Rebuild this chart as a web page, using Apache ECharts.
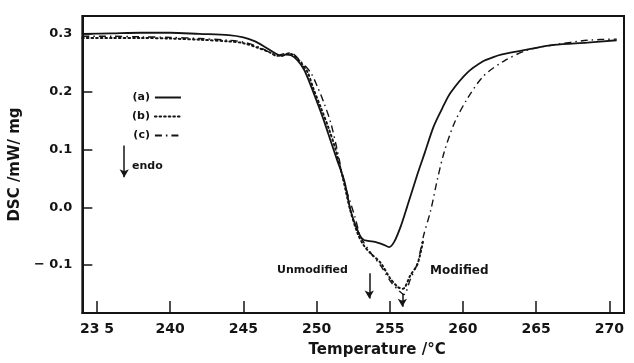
<!DOCTYPE html>
<html>
<head>
<meta charset="utf-8">
<script src="https://cdn.jsdelivr.net/npm/echarts@6/dist/echarts.min.js"></script>
<style>
  html, body { margin: 0; padding: 0; background: #fff; }
  #chart { width: 634px; height: 363px; }
</style>
</head>
<body>
<div id="chart"></div>
<script>
// tick positions and labels
var xTicks = [235, 240, 245, 250, 255, 260, 265, 270];
var xTickLabels = ['23 5', '240', '245', '250', '255', '260', '265', '270'];
var yTicks = [-0.1, 0.0, 0.1, 0.2, 0.3];

// curve (a) - solid
var tempA = [234, 236, 238, 240, 242, 244, 245, 245.8, 246.5, 247.2, 247.6, 247.9, 248.25, 248.7, 249.15, 249.6, 250.05, 250.5, 251.0, 251.4, 251.9, 252.35, 252.9, 253.2, 253.5, 254.15, 254.6, 254.95, 255.3, 255.75, 256.2, 256.9, 257.4, 258.0, 258.6, 259.15, 260.3, 261.4, 262.0, 262.6, 264.6, 266.2, 268.5, 270.5];
var dscA  = [0.300, 0.301, 0.302, 0.302, 0.300, 0.298, 0.294, 0.287, 0.277, 0.266, 0.262, 0.264, 0.263, 0.254, 0.238, 0.211, 0.181, 0.150, 0.112, 0.082, 0.045, -0.008, -0.046, -0.056, -0.058, -0.061, -0.065, -0.069, -0.060, -0.033, 0.002, 0.058, 0.095, 0.140, 0.172, 0.198, 0.233, 0.253, 0.259, 0.264, 0.274, 0.281, 0.285, 0.289];

// curve (b) - dotted
var tempB = [234, 236, 238, 240, 242, 244, 245, 246, 246.8, 247.3, 247.7, 248.1, 248.5, 249.0, 249.4, 249.8, 250.3, 250.85, 251.3, 251.8, 252.3, 252.8, 253.25, 253.7, 254.4, 255.0, 255.55, 255.9, 256.4, 256.9, 257.3];
var dscB  = [0.293, 0.293, 0.293, 0.292, 0.290, 0.287, 0.284, 0.276, 0.268, 0.262, 0.263, 0.266, 0.262, 0.248, 0.233, 0.204, 0.172, 0.135, 0.100, 0.050, -0.005, -0.045, -0.067, -0.080, -0.097, -0.122, -0.138, -0.141, -0.118, -0.098, -0.055];

// curve (c) - dash / dash-dot
var tempC = [234, 236, 238, 240, 242, 244, 245, 246, 246.8, 247.3, 247.8, 248.25, 248.9, 249.6, 250.05, 250.5, 250.97, 251.4, 251.9, 252.6, 253.0, 253.7, 254.4, 255.1, 255.65, 255.97, 256.4, 256.9, 257.3, 257.8, 258.25, 258.7, 259.4, 260.3, 261.4, 262.8, 264.4, 266.2, 268.5, 270.5];
var dscC  = [0.296, 0.296, 0.295, 0.294, 0.292, 0.289, 0.286, 0.278, 0.268, 0.263, 0.266, 0.267, 0.253, 0.233, 0.209, 0.181, 0.146, 0.100, 0.042, -0.015, -0.050, -0.079, -0.102, -0.130, -0.145, -0.151, -0.125, -0.096, -0.050, -0.005, 0.048, 0.094, 0.145, 0.188, 0.227, 0.253, 0.272, 0.281, 0.289, 0.291];

function pairs(xs, ys) {
    return xs.map(function (x, i) { return [x, ys[i]]; });
}

var ink = '#141414';
var font = 'DejaVu Sans';

var chart = echarts.init(document.getElementById('chart'));

var option = {
    animation: false,
    backgroundColor: '#fff',
    grid: {
        left: 81, right: 10, top: 16, bottom: 49,
        show: true, borderColor: ink, borderWidth: 2, backgroundColor: 'transparent'
    },
    legend: {
        orient: 'vertical',
        left: 127,
        top: 87,
        align: 'right',
        itemWidth: 26,
        itemHeight: 10,
        itemGap: 8,
        itemStyle: { opacity: 0 },
        textStyle: { color: ink, fontFamily: font, fontWeight: 'bold', fontSize: 11 },
        data: ['(a)', '(b)', '(c)']
    },
    xAxis: {
        type: 'value',
        min: 234,
        max: 271,
        name: 'Temperature /°C',
        nameLocation: 'middle',
        nameGap: 30,
        nameTextStyle: { color: ink, fontFamily: font, fontWeight: 'bold', fontSize: 15, padding: [0, 0, 0, 48] },
        axisLine: { show: true, onZero: false, lineStyle: { color: ink, width: 2 } },
        axisTick: { show: true, inside: true, length: 12, customValues: xTicks, lineStyle: { color: ink, width: 1.5 } },
        axisLabel: {
            customValues: xTicks,
            margin: 9,
            color: ink, fontFamily: font, fontWeight: 'bold', fontSize: 14,
            formatter: function (v) { return xTickLabels[xTicks.indexOf(v)]; }
        },
        splitLine: { show: false }
    },
    yAxis: {
        type: 'value',
        min: -0.183,
        max: 0.331,
        name: 'DSC /mW/ mg',
        nameLocation: 'middle',
        nameGap: 56,
        nameTextStyle: { color: ink, fontFamily: font, fontWeight: 'bold', fontSize: 15 },
        axisLine: { show: true, lineStyle: { color: ink, width: 2 } },
        axisTick: { show: true, inside: true, length: 10, customValues: yTicks, lineStyle: { color: ink, width: 1.5 } },
        axisLabel: {
            customValues: yTicks,
            margin: 10,
            color: ink, fontFamily: font, fontWeight: 'bold', fontSize: 13,
            formatter: function (v) { return v < 0 ? '\u2212 ' + Math.abs(v).toFixed(1) : v.toFixed(1); }
        },
        splitLine: { show: false }
    },
    series: [
        {
            name: '(a)',
            type: 'line',
            symbol: 'none',
            smooth: 0.3,
            data: pairs(tempA, dscA),
            lineStyle: { color: ink, width: 1.8, type: 'solid' },
            itemStyle: { color: ink },
            markLine: {
                silent: true,
                symbol: ['none', 'arrow'],
                symbolSize: [7, 8],
                label: { show: false },
                lineStyle: { color: ink, width: 1.5, type: 'solid' },
                data: [
                    [{ coord: [236.86, 0.107] }, { coord: [236.86, 0.052] }],
                    [{ coord: [253.6, -0.114] }, { coord: [253.6, -0.158] }],
                    [{ coord: [255.86, -0.150] }, { coord: [255.86, -0.172] }]
                ]
            }
        },
        {
            name: '(b)',
            type: 'line',
            symbol: 'none',
            smooth: 0.3,
            data: pairs(tempB, dscB),
            lineStyle: { color: ink, width: 2, type: [1.6, 3], cap: 'round' },
            itemStyle: { color: ink }
        },
        {
            name: '(c)',
            type: 'line',
            symbol: 'none',
            smooth: 0.3,
            data: pairs(tempC, dscC),
            lineStyle: { color: ink, width: 1.4, type: [7, 4, 1.5, 4] },
            itemStyle: { color: ink }
        }
    ],
    graphic: [
        { type: 'text', left: 132, top: 161, style: { text: 'endo', fill: ink, font: 'bold 11px "DejaVu Sans"' } },
        { type: 'text', left: 277, top: 265, style: { text: 'Unmodified', fill: ink, font: 'bold 11px "DejaVu Sans"' } },
        { type: 'text', left: 430, top: 265, style: { text: 'Modified', fill: ink, font: 'bold 12px "DejaVu Sans"' } }
    ]
};

chart.setOption(option);
window.addEventListener('resize', function () { chart.resize(); });
</script>
</body>
</html>
